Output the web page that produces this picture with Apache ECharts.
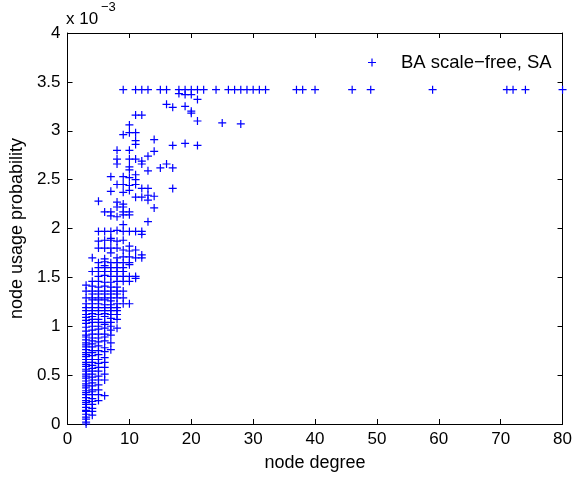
<!DOCTYPE html>
<html><head><meta charset="utf-8">
<script src="https://cdn.jsdelivr.net/npm/echarts/dist/echarts.min.js"></script>
<style>html,body{margin:0;padding:0;background:#fff}#c{width:575px;height:477px}</style>
</head><body><div id="c"></div>
<script>
// node degree columns and their node usage probabilities (in units of 1e-3)
const degreeCols = [3,4,5,6,7,8,9,10,11,12,13,14,15,16,17,18,19,20,21,25,28];
const usageCols = [
  [0.00,0.02,0.05,0.07,0.10,0.13,0.14,0.17,0.20,0.22,0.24,0.27,0.30,0.32,0.34,0.37,0.39,0.41,0.44,0.47,0.49,0.51,0.54,0.56,0.59,0.61,0.63,0.66,0.69,0.71,0.73,0.76,0.79,0.81,0.83,0.86,0.89,0.91,0.95,0.99,1.03,1.06,1.09,1.12,1.16,1.19,1.23,1.29,1.36,1.42],
  [0.09,0.13,0.16,0.20,0.23,0.26,0.30,0.33,0.35,0.39,0.42,0.45,0.48,0.51,0.54,0.57,0.60,0.63,0.66,0.70,0.73,0.75,0.79,0.82,0.85,0.88,0.92,0.96,1.00,1.04,1.07,1.10,1.13,1.16,1.19,1.23,1.27,1.29,1.33,1.36,1.41,1.46,1.56,1.70],
  [0.24,0.30,0.35,0.40,0.45,0.49,0.54,0.58,0.62,0.66,0.71,0.75,0.80,0.84,0.88,0.92,0.97,1.00,1.04,1.07,1.12,1.16,1.19,1.23,1.27,1.29,1.33,1.36,1.40,1.46,1.51,1.56,1.60,1.65,1.80,1.87,1.97,2.28],
  [0.29,0.45,0.51,0.58,0.63,0.68,0.74,0.78,0.85,0.89,0.92,0.98,1.02,1.04,1.10,1.13,1.16,1.19,1.22,1.27,1.29,1.33,1.36,1.41,1.45,1.52,1.56,1.60,1.62,1.66,1.69,1.80,1.88,1.97,2.17],
  [0.76,0.83,0.91,0.96,1.00,1.04,1.08,1.12,1.16,1.19,1.22,1.26,1.29,1.33,1.36,1.40,1.45,1.51,1.56,1.60,1.65,1.75,1.80,1.88,1.90,1.97,2.13,2.17,2.38,2.53],
  [0.98,1.07,1.12,1.16,1.19,1.23,1.29,1.33,1.36,1.40,1.46,1.51,1.56,1.60,1.65,1.70,1.80,1.87,1.98,2.12,2.22,2.27,2.45,2.66,2.71,2.80],
  [1.23,1.29,1.36,1.46,1.51,1.56,1.60,1.65,1.71,1.78,1.88,1.97,2.04,2.14,2.17,2.22,2.25,2.37,2.45,2.53,2.96],
  [1.23,1.46,1.51,1.63,1.65,1.71,1.77,1.82,1.97,2.14,2.17,2.39,2.44,2.52,2.60,2.63,2.71,2.80,2.98,3.06],
  [1.49,1.51,1.70,1.78,1.97,2.32,2.45,2.50,2.55,2.71,2.86,2.90,2.98,3.16],
  [1.70,1.73,1.94,1.97,2.32,2.41,2.66,2.69,3.16],
  [2.07,2.29,2.34,2.41,2.59,2.74],
  [2.21,2.33,2.79,2.91],
  [2.62],
  [2.66,3.27],
  [2.41,2.62,2.85,3.24],
  [3.38],
  [2.87,3.25,3.37],
  [3.18,3.20,3.37],
  [2.85,3.10,3.32],
  [3.08],
  [3.07]
];
// nodes whose usage probability sits at the ceiling value
const saturatedDegrees = [9,11,12,13,15,16,18,19,20,21,22,24,26,27,28,29,30,31,32,37,38,40,46,49,59,71,72,74,80];
const saturatedUsage = 3.42;

const xTicks = [0,10,20,30,40,50,60,70,80];
const yTicks = [0,0.5,1,1.5,2,2.5,3,3.5,4];
const seriesName = 'BA scale\u2212free, SA';

const points = [];
degreeCols.forEach((d, i) => usageCols[i].forEach(u => points.push([d, u])));
saturatedDegrees.forEach(d => points.push([d, saturatedUsage]));

const FONT = '"Liberation Sans", Arial, Helvetica, sans-serif';
const PLUS = 'path://M3.4,0h1.2v8h-1.2z M0,3.4h8v1.2h-8z';
const axisCommon = {
  axisLine: {show: true, onZero: false, lineStyle: {color: '#000', width: 1}},
  axisTick: {show: true, inside: true, length: 5, lineStyle: {color: '#000', width: 1}},
  splitLine: {show: false}
};

const chart = echarts.init(document.getElementById('c'), null, {renderer: 'canvas'});
chart.setOption({
  animation: false,
  backgroundColor: '#fff',
  grid: {left: 65, right: 10, top: 33, bottom: 50, containLabel: false},
  xAxis: [
    Object.assign({
      type: 'value', position: 'bottom',
      min: xTicks[0], max: xTicks[xTicks.length - 1], interval: xTicks[1] - xTicks[0],
      axisLabel: {color: '#000', fontSize: 17, margin: 7, fontFamily: FONT},
      name: 'node degree', nameLocation: 'middle', nameGap: 30,
      nameTextStyle: {color: '#000', fontSize: 18, fontFamily: FONT}
    }, axisCommon),
    Object.assign({
      type: 'value', position: 'top',
      min: xTicks[0], max: xTicks[xTicks.length - 1], interval: xTicks[1] - xTicks[0],
      axisLabel: {show: false}
    }, axisCommon)
  ],
  yAxis: [
    Object.assign({
      type: 'value', position: 'left',
      min: yTicks[0], max: yTicks[yTicks.length - 1], interval: yTicks[1] - yTicks[0],
      axisLabel: {color: '#000', fontSize: 17, margin: 7, fontFamily: FONT},
      name: 'node usage probability', nameLocation: 'middle', nameGap: 38,
      nameTextStyle: {color: '#000', fontSize: 18, fontFamily: FONT}
    }, axisCommon),
    Object.assign({
      type: 'value', position: 'right',
      min: yTicks[0], max: yTicks[yTicks.length - 1], interval: yTicks[1] - yTicks[0],
      axisLabel: {show: false}
    }, axisCommon)
  ],
  legend: {
    data: [{name: seriesName, icon: PLUS}],
    left: 363, top: 48, itemWidth: 8, itemHeight: 8,
    textStyle: {color: '#000', fontSize: 18.5, fontFamily: FONT, padding: [0, 0, 0, 20]},
    itemStyle: {color: '#0000ff'}
  },
  graphic: [
    {type: 'text', left: 66, top: 11, style: {text: 'x 10', fontSize: 17, fontFamily: FONT, fill: '#000'}},
    {type: 'text', left: 101, top: 1, style: {text: '\u22123', fontSize: 13, fontFamily: FONT, fill: '#000'}}
  ],
  series: [{
    name: seriesName,
    type: 'scatter',
    xAxisIndex: 0, yAxisIndex: 0,
    symbol: PLUS,
    symbolSize: 8,
    itemStyle: {color: '#0000ff', opacity: 1},
    emphasis: {disabled: true},
    data: points
  }]
});
</script></body></html>
